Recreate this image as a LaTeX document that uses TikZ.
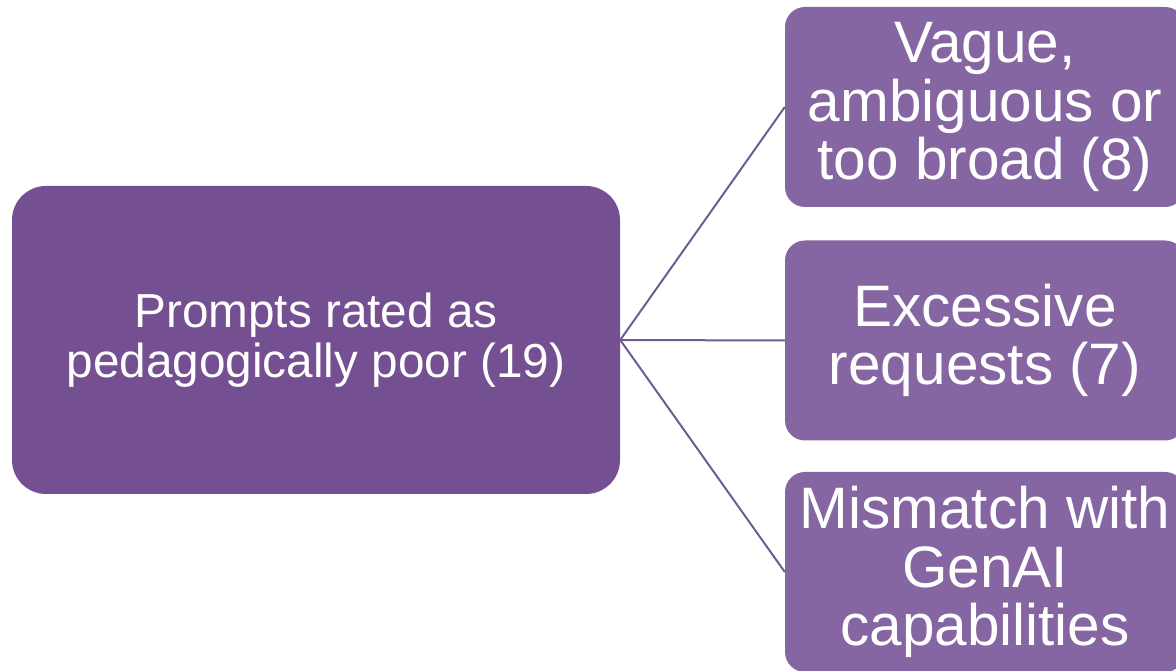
\documentclass[tikz,border=0pt]{standalone}
\usepackage{fontspec}
\setmainfont{Liberation Sans}
\definecolor{rootfill}{RGB}{116,79,146}
\definecolor{leaffill}{RGB}{133,101,162}
\definecolor{linkcol}{RGB}{112,92,142}
\begin{document}
\begin{tikzpicture}[x=1pt,y=1pt,
  rootbox/.style={fill=rootfill, rounded corners=34pt, minimum width=608pt,
    minimum height=308pt, inner sep=0pt, align=center, text=white,
    font=\fontsize{47.7}{50}\selectfont},
  leafbox/.style={fill=leaffill, rounded corners=20pt, minimum width=400pt,
    minimum height=200pt, inner sep=0pt, align=center, text=white,
    font=\fontsize{58.5}{58.5}\selectfont},
  link/.style={draw=linkcol, line width=2pt}]
\useasboundingbox (0,0) rectangle (1176,671);
\node[rootbox] (root) at (316,331) {Prompts rated as\\pedagogically poor (19)};
\node[leafbox] (vague) at (985,564) {Vague,\\ambiguous or\\too broad (8)};
\node[leafbox] (excess) at (985,330.5) {Excessive\\requests (7)};
\node[leafbox] (mismatch) at (985,99) {Mismatch with\\GenAI\\capabilities};
\draw[link] (root.east) -- (vague.west);
\draw[link] (root.east) -- (excess.west);
\draw[link] (root.east) -- (mismatch.west);
\end{tikzpicture}
\end{document}
